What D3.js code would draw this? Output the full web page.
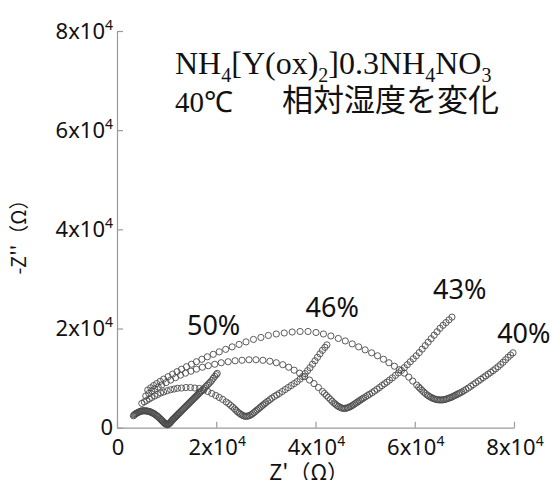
<!DOCTYPE html>
<html>
<head>
<meta charset="utf-8">
<script src="https://cdn.jsdelivr.net/npm/d3@7"></script>
<style>
body { margin: 0; background: #fff; }
</style>
</head>
<body>
<svg width="553" height="480"></svg>
<script>
// impedance data, in kilo-ohm: [Z', -Z'']
let rh = ['50%', '46%', '43%', '40%'];
let ticks = [0, 20000, 40000, 60000, 80000];
let tickText = ['0', '2x10', '4x10', '6x10', '8x10'];

let z50 = [[3.3,2.4],[3.45,2.55],[3.6,2.7],[3.75,2.8],[3.9,2.9],[4.1,3.0],[4.3,3.1],[4.5,3.2],[4.7,3.3],
	[4.9,3.35],[5.1,3.4],[5.3,3.4],[5.5,3.4],[5.7,3.4],[5.9,3.4],[6.1,3.35],[6.3,3.3],[6.5,3.25],[6.7,3.2],
	[6.9,3.1],[7.1,3.0],[7.3,2.9],[7.5,2.8],[7.7,2.65],[7.9,2.5],[8.1,2.35],[8.3,2.2],[8.5,2.0],[8.7,1.8],
	[8.85,1.65],[9.0,1.5],[9.15,1.35],[9.3,1.2],[9.45,1.05],[9.6,0.9],[9.75,0.8],[9.9,0.7],[10.05,0.65],
	[10.2,0.6],[10.35,0.7],[10.5,0.8],[10.65,0.95],[10.8,1.1],[10.95,1.3],[11.1,1.5],[11.25,1.65],
	[11.4,1.8],[11.55,1.95],[11.7,2.1],[11.85,2.25],[12.0,2.4],[12.15,2.55],[12.3,2.7],[12.45,2.85],
	[12.6,3.0],[12.8,3.2],[13.0,3.4],[13.2,3.6],[13.4,3.8],[13.6,4.0],[13.8,4.2],[14.0,4.4],[14.2,4.6],
	[14.4,4.8],[14.6,5.0],[14.8,5.2],[15.0,5.4],[15.2,5.6],[15.4,5.8],[15.6,6.0],[15.8,6.2],[16.0,6.4],
	[16.2,6.6],[16.4,6.8],[16.6,7.0],[16.8,7.2],[17.0,7.4],[17.3,7.7],[17.6,8.0],[17.9,8.3],[18.2,8.6],
	[18.5,8.9],[18.8,9.2],[19.1,9.55],[19.4,9.95],[19.7,10.35],[20.0,10.7],[20.2,10.95]];

let z46 = [[5.0,4.9],[5.5,5.2],[6.0,5.5],[6.5,5.8],[7.0,6.1],[7.6,6.4],[8.2,6.7],[8.8,7.0],[9.4,7.2],
	[10.1,7.45],[10.8,7.65],[11.5,7.8],[12.2,7.95],[13.0,8.0],[13.9,8.1],[14.8,8.1],[15.7,8.0],[16.6,7.9],
	[17.5,7.6],[18.3,7.3],[19.1,6.9],[19.9,6.5],[20.6,6.1],[21.3,5.7],[22.0,5.2],[22.5,4.85],[22.9,4.5],
	[23.3,4.15],[23.7,3.8],[24.0,3.5],[24.3,3.2],[24.6,2.95],[24.9,2.75],[25.2,2.55],[25.5,2.4],
	[25.8,2.3],[26.1,2.3],[26.4,2.35],[26.7,2.45],[27.0,2.6],[27.3,2.8],[27.6,3.05],[27.9,3.3],
	[28.2,3.55],[28.5,3.8],[28.8,4.05],[29.1,4.3],[29.4,4.55],[29.7,4.8],[30.0,5.05],[30.4,5.35],
	[30.8,5.65],[31.2,5.95],[31.7,6.3],[32.2,6.6],[32.7,6.9],[33.3,7.3],[33.9,7.7],[34.5,8.1],[35.1,8.5],
	[35.7,8.9],[36.3,9.3],[36.9,9.8],[37.4,10.3],[37.9,10.9],[38.4,11.5],[38.9,12.1],[39.4,12.8],
	[39.9,13.5],[40.4,14.2],[40.9,14.9],[41.4,15.6],[41.9,16.2],[42.3,16.7]];

let z43 = [[5.8,6.4],[6.4,6.9],[7.0,7.4],[7.6,7.8],[8.3,8.2],[9.0,8.6],[9.9,9.1],[10.8,9.6],[11.8,10.1],
	[12.8,10.6],[13.8,11.0],[14.9,11.4],[16.0,11.8],[17.2,12.2],[18.4,12.5],[19.7,12.8],[21.0,13.1],
	[22.4,13.3],[23.8,13.5],[25.2,13.6],[26.6,13.7],[28.0,13.7],[29.4,13.6],[30.8,13.4],[32.1,13.1],
	[33.4,12.7],[34.6,12.2],[35.7,11.6],[36.8,11.0],[37.8,10.3],[38.8,9.6],[39.7,8.9],[40.6,8.1],
	[41.4,7.3],[41.8,6.9],[42.2,6.5],[42.6,6.1],[43.0,5.7],[43.35,5.35],[43.7,5.0],[44.0,4.75],
	[44.3,4.5],[44.6,4.3],[44.9,4.15],[45.2,4.0],[45.5,3.9],[45.8,3.9],[46.1,3.9],[46.4,4.0],[46.7,4.1],
	[47.0,4.25],[47.3,4.4],[47.6,4.6],[47.9,4.8],[48.2,5.0],[48.5,5.2],[48.8,5.4],[49.1,5.6],[49.4,5.8],
	[49.7,6.0],[50.1,6.25],[50.5,6.5],[50.9,6.75],[51.4,7.05],[51.9,7.4],[52.4,7.75],[52.9,8.1],
	[53.4,8.5],[53.9,8.85],[54.4,9.2],[54.9,9.6],[55.5,10.05],[56.1,10.55],[56.7,11.05],[57.3,11.55],
	[57.9,12.1],[58.5,12.7],[59.1,13.3],[59.7,13.9],[60.3,14.5],[60.9,15.15],[61.5,15.85],[62.1,16.55],
	[62.7,17.25],[63.3,17.95],[63.9,18.65],[64.5,19.35],[65.1,20.05],[65.7,20.65],[66.3,21.2],
	[66.9,21.75],[67.5,22.3]];

let z40 = [[6.2,7.6],[6.8,8.05],[7.4,8.5],[8.0,8.9],[8.7,9.35],[9.4,9.8],[10.3,10.3],[11.2,10.8],
	[12.1,11.3],[13.0,11.8],[14.0,12.3],[15.0,12.8],[16.0,13.3],[17.1,13.8],[18.2,14.3],[19.4,14.8],
	[20.6,15.3],[21.9,15.8],[23.2,16.3],[24.6,16.8],[26.0,17.3],[27.5,17.8],[29.0,18.2],[30.5,18.6],
	[32.1,18.9],[33.7,19.1],[35.3,19.3],[36.9,19.4],[38.5,19.4],[40.1,19.2],[41.6,18.9],[43.1,18.5],
	[44.6,18.0],[46.0,17.5],[47.4,16.9],[48.7,16.3],[50.0,15.7],[51.3,15.1],[52.5,14.5],[53.7,13.8],
	[54.8,13.1],[55.9,12.4],[56.9,11.7],[57.9,11.0],[58.8,10.2],[59.6,9.4],[60.4,8.6],[60.8,8.2],
	[61.1,7.9],[61.45,7.55],[61.8,7.2],[62.15,6.9],[62.5,6.6],[62.8,6.4],[63.1,6.2],[63.4,6.05],
	[63.7,5.9],[64.0,5.8],[64.3,5.7],[64.6,5.65],[64.9,5.6],[65.2,5.6],[65.5,5.6],[65.8,5.65],[66.1,5.7],
	[66.4,5.8],[66.7,5.9],[67.0,6.0],[67.3,6.1],[67.6,6.25],[67.9,6.4],[68.2,6.55],[68.5,6.7],
	[68.8,6.85],[69.1,7.0],[69.5,7.2],[69.9,7.45],[70.3,7.7],[70.8,8.0],[71.3,8.35],[71.8,8.7],
	[72.3,9.05],[72.8,9.4],[73.3,9.75],[73.8,10.1],[74.3,10.45],[74.8,10.8],[75.3,11.15],[75.8,11.5],
	[76.3,11.9],[76.8,12.3],[77.3,12.75],[77.8,13.2],[78.3,13.7],[78.8,14.2],[79.3,14.65],[79.8,15.1]];

let series = [z50, z46, z43, z40];

// where each humidity label sits, in ohm
let labelAt = [[14100, 18700], [38000, 22300], [63700, 26000], [76600, 17000]];

let svg = d3.select('svg');
let x = d3.scaleLinear().domain([0, 80000]).range([117, 514]);
let y = d3.scaleLinear().domain([0, 80000]).range([427.7, 31]);

let tickFont = 'Noto Sans, Liberation Sans, sans-serif';

function drawAxes()
{
	svg.append('g')
		.attr('transform', 'translate(0,' + y(0) + ')')
		.call(d3.axisBottom(x).tickValues(ticks).tickSize(-6).tickSizeOuter(0).tickFormat(''));
	svg.append('g')
		.attr('transform', 'translate(' + x(0) + ',0)')
		.call(d3.axisLeft(y).tickValues(ticks).tickSize(-6).tickSizeOuter(0).tickFormat(''));
	svg.selectAll('.domain, .tick line')
		.attr('stroke', '#9a9a9a')
		.attr('stroke-width', 1.2);

	// tick labels like 2x10^4
	ticks.forEach(function(v, i) {
		let tx = svg.append('text')
			.attr('x', x(v) + 1)
			.attr('y', 455)
			.attr('text-anchor', 'middle');
		let ty = svg.append('text')
			.attr('x', 113)
			.attr('y', y(v) + 7.5)
			.attr('text-anchor', 'end');
		[tx, ty].forEach(function(t) {
			t.attr('font-family', tickFont).attr('font-size', 22).attr('fill', '#111')
				.text(tickText[i]);
			if (v !== 0) {
				t.append('tspan').attr('dy', -9).attr('font-size', 14).text('4');
			}
		});
	});

	svg.append('text')
		.attr('transform', 'translate(26,232) rotate(-90)')
		.attr('text-anchor', 'middle')
		.attr('font-family', 'Noto Sans CJK JP, sans-serif')
		.attr('font-size', 20)
		.attr('fill', '#111')
		.text("-Z''（Ω）");

	svg.append('text')
		.attr('x', 269)
		.attr('y', 480)
		.attr('font-family', 'Noto Sans CJK JP, sans-serif')
		.attr('font-size', 22)
		.attr('fill', '#111')
		.text("Z'（Ω）");
}

function drawPoints()
{
	svg.selectAll('g.run')
		.data(series)
		.join('g')
		.attr('class', 'run')
		.selectAll('circle')
		.data(function(d) { return d; })
		.join('circle')
		.attr('cx', function(d) { return x(d[0] * 1000); })
		.attr('cy', function(d) { return y(d[1] * 1000); })
		.attr('r', 3.1)
		.attr('fill', 'none')
		.attr('stroke', '#4a4a4a')
		.attr('stroke-width', 0.9);

	svg.selectAll('text.rh')
		.data(rh)
		.join('text')
		.attr('class', 'rh')
		.attr('x', function(d, i) { return x(labelAt[i][0]); })
		.attr('y', function(d, i) { return y(labelAt[i][1]); })
		.attr('font-family', tickFont)
		.attr('font-size', 27)
		.attr('fill', '#111')
		.text(function(d) { return d; });
}

function drawTitle()
{
	let serif = 'Liberation Serif, Times New Roman, serif';
	let t = svg.append('text')
		.attr('x', 175)
		.attr('y', 74)
		.attr('font-family', serif)
		.attr('font-size', 32)
		.attr('fill', '#111');
	// formula with subscripts
	let parts = [['NH', 0], ['4', 1], ['[Y(ox)', 0], ['2', 1], [']0.3NH', 0], ['4', 1], ['NO', 0], ['3', 1]];
	parts.forEach(function(p, i) {
		let prev = i > 0 ? parts[i - 1][1] : 0;
		t.append('tspan')
			.attr('dy', p[1] ? 8 : (prev ? -8 : 0))
			.attr('font-size', p[1] ? 20 : 32)
			.text(p[0]);
	});

	svg.append('text')
		.attr('x', 175)
		.attr('y', 112)
		.attr('font-family', serif)
		.attr('font-size', 29)
		.attr('fill', '#111')
		.text('40℃');

	svg.append('text')
		.attr('x', 282)
		.attr('y', 111)
		.attr('font-family', 'Noto Sans CJK JP, sans-serif')
		.attr('font-size', 31)
		.attr('fill', '#111')
		.text('相対湿度を変化');
}

drawAxes();
drawPoints();
drawTitle();
</script>
</body>
</html>
